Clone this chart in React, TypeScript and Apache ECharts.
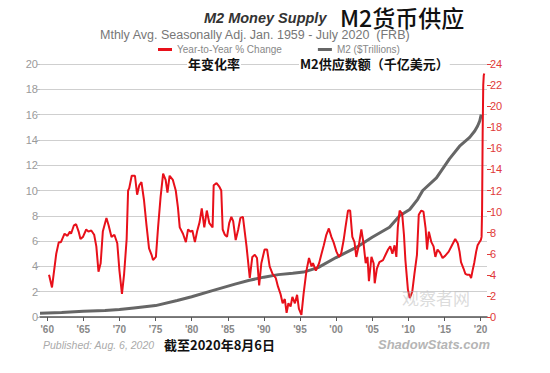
import React, { useEffect, useRef } from "react";
import * as echarts from "echarts";

// Year-to-Year % change (right axis, %)
const yoyChange: [number, number][] = [
  [1960.25, 4.0], [1960.66, 2.8], [1961.25, 6.0], [1961.6, 7.1], [1961.9, 7.1], [1962.4, 7.9],
  [1962.8, 7.7], [1963.15, 8.1], [1963.3, 7.9], [1963.7, 8.7], [1964.0, 8.8], [1964.35, 8.1],
  [1964.6, 7.4], [1964.95, 7.6], [1965.4, 8.3], [1965.7, 8.1], [1966.1, 8.2], [1966.5, 7.8],
  [1966.8, 6.7], [1967.1, 4.3], [1967.4, 5.1], [1967.7, 8.1], [1968.2, 9.4], [1968.5, 8.7],
  [1968.9, 7.6], [1969.3, 7.8], [1969.7, 7.0], [1970.0, 4.4], [1970.35, 2.2], [1970.65, 4.1],
  [1971.0, 7.4], [1971.2, 12.0], [1971.35, 12.2], [1971.7, 13.4], [1972.15, 13.4], [1972.45, 11.6],
  [1972.75, 12.5], [1973.05, 12.8], [1973.4, 11.1], [1973.75, 8.7], [1974.1, 6.5], [1974.45, 5.9],
  [1974.65, 5.4], [1975.05, 5.7], [1975.35, 8.5], [1975.7, 11.4], [1976.05, 13.6], [1976.4, 13.0],
  [1976.65, 11.8], [1976.95, 13.4], [1977.4, 13.0], [1977.8, 12.0], [1978.1, 10.4], [1978.35, 8.5],
  [1978.8, 7.9], [1979.2, 7.1], [1979.5, 8.3], [1979.85, 8.1], [1980.1, 8.2], [1980.45, 7.1],
  [1980.75, 8.1], [1981.1, 9.0], [1981.4, 10.3], [1981.75, 8.5], [1982.1, 10.1], [1982.45, 8.9],
  [1982.9, 8.5], [1983.05, 12.5], [1983.45, 12.7], [1983.8, 12.4], [1984.1, 12.0], [1984.3, 8.3],
  [1984.6, 7.8], [1984.9, 7.6], [1985.2, 8.9], [1985.5, 9.5], [1985.75, 9.1], [1986.1, 7.3],
  [1986.45, 8.3], [1986.75, 9.4], [1987.1, 9.5], [1987.6, 6.7], [1988.05, 3.7], [1988.4, 5.7],
  [1988.75, 5.9], [1989.05, 5.6], [1989.35, 3.0], [1989.65, 5.1], [1990.1, 6.4], [1990.45, 6.4],
  [1990.8, 4.8], [1991.2, 4.1], [1991.65, 3.7], [1991.95, 2.9], [1992.3, 2.2], [1992.6, 1.3],
  [1992.9, 1.7], [1993.15, 0.4], [1993.4, 1.3], [1993.7, 1.0], [1993.95, 1.9], [1994.3, 1.3],
  [1994.6, 2.1], [1994.85, 0.8], [1995.2, 0.2], [1995.5, 2.2], [1995.9, 4.4], [1996.25, 5.6],
  [1996.6, 4.8], [1996.8, 5.1], [1997.2, 4.4], [1997.65, 5.1], [1997.95, 5.9], [1998.3, 6.8],
  [1998.65, 7.8], [1999.0, 8.4], [1999.35, 7.6], [1999.65, 7.1], [2000.05, 6.2], [2000.4, 5.7],
  [2000.7, 6.0], [2001.05, 7.3], [2001.3, 8.5], [2001.65, 10.1], [2001.95, 10.1], [2002.25, 7.6],
  [2002.55, 7.1], [2002.8, 5.7], [2003.15, 6.8], [2003.5, 8.3], [2003.8, 7.0], [2004.1, 5.1],
  [2004.35, 5.7], [2004.55, 3.4], [2004.9, 5.7], [2005.2, 5.1], [2005.35, 3.2], [2005.65, 4.6],
  [2006.0, 5.2], [2006.5, 5.4], [2006.85, 5.9], [2007.2, 6.4], [2007.5, 6.7], [2007.8, 6.0],
  [2008.1, 6.8], [2008.35, 5.7], [2008.55, 8.5], [2008.8, 10.1], [2009.15, 9.8], [2009.4, 7.8],
  [2009.6, 5.4], [2009.95, 2.6], [2010.2, 1.8], [2010.55, 2.4], [2010.85, 4.1], [2011.2, 5.9],
  [2011.45, 9.7], [2011.8, 10.1], [2012.1, 10.0], [2012.4, 8.4], [2012.6, 6.4], [2012.85, 8.1],
  [2013.2, 7.1], [2013.5, 6.7], [2013.75, 5.7], [2014.05, 6.4], [2014.4, 6.1], [2014.75, 5.6],
  [2015.1, 5.8], [2015.6, 6.2], [2016.05, 6.8], [2016.5, 7.4], [2016.85, 7.0], [2017.1, 6.2],
  [2017.3, 5.2], [2017.65, 4.6], [2017.9, 4.1], [2018.2, 4.0], [2018.5, 4.0], [2018.7, 3.7],
  [2018.9, 4.4], [2019.15, 5.2], [2019.4, 6.2], [2019.6, 6.8], [2019.85, 7.1], [2020.05, 7.3],
  [2020.15, 7.6], [2020.22, 10.2], [2020.3, 17.5], [2020.38, 22.0], [2020.45, 22.9], [2020.52, 23.1],
];

// M2 in $ trillions (left axis)
const m2Trillions: [number, number][] = [
  [1959.0, 0.3], [1962.0, 0.35], [1965.0, 0.45], [1968.0, 0.52], [1970.0, 0.6], [1972.0, 0.72],
  [1975.0, 0.9], [1978.0, 1.3], [1980.0, 1.6], [1983.0, 2.1], [1986.0, 2.6], [1988.0, 2.9],
  [1990.0, 3.15], [1992.0, 3.35], [1994.0, 3.45], [1995.5, 3.55], [1997.5, 3.9], [2000.0, 4.7],
  [2002.8, 5.5], [2005.0, 6.3], [2007.4, 7.1], [2008.8, 8.0], [2010.2, 8.5], [2011.3, 9.3],
  [2012.0, 10.0], [2013.9, 11.0], [2015.7, 12.5], [2017.1, 13.5], [2018.5, 14.2], [2019.2, 14.7],
  [2019.6, 15.1], [2019.9, 15.5], [2020.1, 16.0],
];

const xTickYears = [1960, 1965, 1970, 1975, 1980, 1985, 1990, 1995, 2000, 2005, 2010, 2015, 2020];

const EN = "'Liberation Sans', Arial, sans-serif";
const CJK = "'Noto Sans CJK SC', sans-serif";

export default function App() {
  const ref = useRef<HTMLDivElement>(null);
  useEffect(() => {
    if (!ref.current) return;
    const chart = echarts.init(ref.current, undefined, { renderer: "svg" });
    chart.setOption({
      animation: false,
      backgroundColor: "#ffffff",
      textStyle: { fontFamily: EN },
      grid: { left: 40, right: 63, top: 64, bottom: 56 },
      legend: {
        left: 158,
        top: 44,
        itemWidth: 14,
        itemHeight: 3,
        itemGap: 36,
        icon: "rect",
        padding: 0,
        textStyle: { fontSize: 10, color: "#888", fontFamily: EN, lineHeight: 11 },
        data: ["Year-to-Year % Change", "M2 ($Trillions)"],
      },
      xAxis: {
        type: "value",
        min: 1959,
        max: 2020.9,
        axisLine: { show: true, lineStyle: { color: "#555", width: 1.5 } },
        axisTick: { show: true, length: 4, lineStyle: { color: "#555" }, customValues: xTickYears },
        axisLabel: {
          customValues: xTickYears,
          formatter: (v: number) => "'" + String(v).slice(2),
          color: "#888",
          fontWeight: "bold",
          fontSize: 10,
          margin: 7,
          lineHeight: 10,
        },
        splitLine: { show: false },
      },
      yAxis: [
        {
          type: "value",
          min: 0,
          max: 20,
          interval: 2,
          position: "left",
          axisLine: { show: false },
          axisTick: { show: true, length: 3, lineStyle: { color: "#bbb" } },
          axisLabel: { color: "#999", fontSize: 11, margin: 2 },
          splitLine: { show: true, lineStyle: { color: "#cfcfcf", width: 1 } },
        },
        {
          type: "value",
          min: 0,
          max: 24,
          interval: 2,
          position: "right",
          axisLine: { show: false },
          axisTick: { show: true, length: 4, lineStyle: { color: "#e03a3a" } },
          axisLabel: { color: "#e03a3a", fontSize: 11, margin: 3 },
          splitLine: { show: false },
        },
      ],
      series: [
        {
          name: "M2 ($Trillions)",
          type: "line",
          yAxisIndex: 0,
          data: m2Trillions,
          showSymbol: false,
          symbol: "none",
          itemStyle: { color: "#666" },
          lineStyle: { color: "#666", width: 3 },
          z: 2,
        },
        {
          name: "Year-to-Year % Change",
          type: "line",
          yAxisIndex: 1,
          data: yoyChange,
          showSymbol: false,
          symbol: "none",
          itemStyle: { color: "#e8101a" },
          lineStyle: { color: "#e8101a", width: 2 },
          z: 3,
        },
      ],
      graphic: [
        {
          type: "text",
          left: 204,
          top: 10,
          style: { text: "M2 Money Supply", font: `italic bold 14.5px ${EN}`, fill: "#333" },
        },
        {
          type: "text",
          left: 340,
          top: 5,
          style: { text: "M2货币供应", font: `500 23px ${CJK}`, fill: "#111", lineHeight: 22 },
        },
        {
          type: "text",
          left: 100,
          top: 28,
          style: {
            text: "Mthly Avg. Seasonally Adj. Jan. 1959 - July 2020  (FRB)",
            font: `12.5px ${EN}`,
            fill: "#777",
            lineHeight: 13,
          },
        },
        {
          type: "text",
          left: 187,
          top: 57,
          z: 10,
          style: {
            text: "年变化率",
            font: `bold 13px ${CJK}`,
            fill: "#111",
            lineHeight: 13,
            backgroundColor: "#fff",
            padding: [0, 1],
          },
        },
        {
          type: "text",
          left: 299,
          top: 57,
          z: 10,
          style: {
            text: "M2供应数额（千亿美元）",
            font: `bold 13px ${CJK}`,
            fill: "#111",
            lineHeight: 13,
            backgroundColor: "#fff",
            padding: [0, 1],
          },
        },
        {
          type: "text",
          left: 43,
          top: 339,
          style: { text: "Published: Aug. 6, 2020", font: `italic 10.5px ${EN}`, fill: "#aaa" },
        },
        {
          type: "text",
          left: 164,
          top: 338,
          style: { text: "截至2020年8月6日", font: `bold 13px ${CJK}`, fill: "#111", lineHeight: 13 },
        },
        {
          type: "text",
          left: 378,
          top: 338,
          style: { text: "ShadowStats.com", font: `italic bold 13px ${EN}`, fill: "#b5b5b5" },
        },
        {
          type: "text",
          left: 402,
          top: 288,
          z: 10,
          style: { text: "观察者网", font: `17px ${CJK}`, fill: "rgba(190,190,190,0.55)", lineHeight: 18 },
        },
      ],
    });
    return () => chart.dispose();
  }, []);
  return (
    <div
      ref={ref}
      style={{ position: "absolute", left: 0, top: 0, width: 550, height: 373 }}
    />
  );
}
